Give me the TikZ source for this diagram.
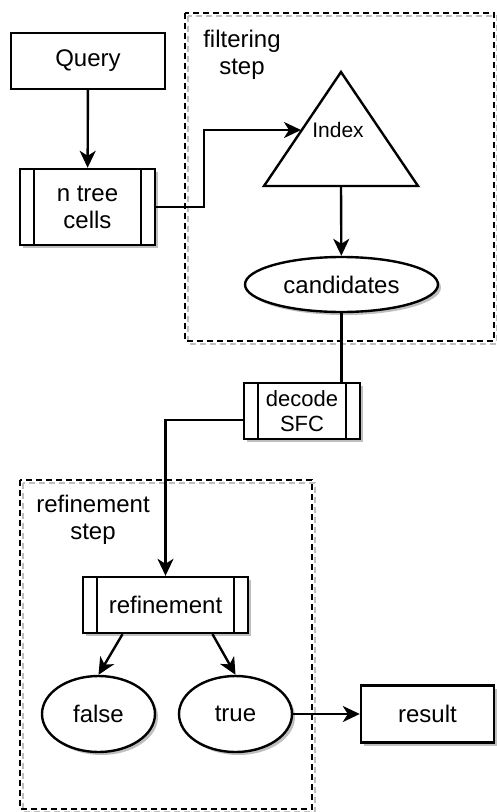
\documentclass[tikz,border=0pt]{standalone}
\usepackage{fontspec}
\setmainfont{Liberation Sans}
\usetikzlibrary{arrows.meta,shadows,shapes.geometric}

\begin{document}
\begin{tikzpicture}[x=1pt,y=-1pt,line width=2.4pt,
  font=\fontsize{24}{27}\selectfont,
  dshadow/.style={drop shadow={shadow xshift=3pt,shadow yshift=-3pt,fill=black!25,opacity=1}},
  box/.style={draw,fill=white,align=center,inner sep=0pt},
  proc/.style={box,dshadow,path picture={
    \draw ([xshift=14pt]path picture bounding box.north west) -- ([xshift=14pt]path picture bounding box.south west);
    \draw ([xshift=-14pt]path picture bounding box.north east) -- ([xshift=-14pt]path picture bounding box.south east);}},
  oval/.style={box,ellipse,dshadow},
  arr/.style={-{Stealth[length=17pt,width=16pt,inset=5pt]}},
  group/.style={dash pattern=on 6pt off 4pt},
  groupshade/.style={group,black!25}]
\useasboundingbox (0,0) rectangle (496,812);

% group frames
\draw[groupshade] (188,16) rectangle (497,344);
\draw[group] (185,13) rectangle (494,341);
\draw[groupshade] (23,483) rectangle (315,812);
\draw[group] (20,480) rectangle (312,809);
\node[align=center] (filt) at (242,55) {filtering\\step};
\node[align=center] (refs) at (93,520) {refinement\\step};

\node[box, minimum width=154pt, minimum height=56pt] (query) at (88,61) {Query};
\node[proc, minimum width=135pt, minimum height=76pt] (cells) at (87.5,207) {n tree\\cells};
\coordinate (itop) at (341,72);
\coordinate (ileft) at (264,186);
\coordinate (iright) at (418,186);
\coordinate (ibase) at (341,186);
\coordinate (iin) at (301,130);
\draw[fill=white] (ileft) -- (itop) -- (iright) -- cycle;
\node[font=\fontsize{21}{25}\selectfont] (index) at (338,130) {Index};
\node[oval, minimum width=193pt, minimum height=55pt] (cand) at (341.5,284.5) {candidates};
\node[proc, minimum width=116pt, minimum height=56pt,
  font=\fontsize{22}{25}\selectfont] (decode) at (302,411) {decode\\SFC};
\node[proc, minimum width=165pt, minimum height=56pt] (refine) at (165.5,605) {refinement};
\node[oval, minimum width=113pt, minimum height=76pt] (false) at (98.5,714) {false};
\node[oval, minimum width=113pt, minimum height=76pt] (true) at (235.5,714) {true};
\node[box, dshadow, minimum width=133pt, minimum height=57pt] (result) at (427.5,714) {result};

\path[draw,arr] (query) -- (cells);
\path[draw,arr] (cells.east) -- ++(48,0) |- (iin);
\path[draw,arr] (ibase) -- (cand);
\path[draw] (cand.south) -- (cand.south |- decode.north);
\path[draw,arr] ([yshift=-9pt]decode.west) -| (refine.north);
\path[draw,arr] ([xshift=-43pt]refine.south) -- (false.north);
\path[draw,arr] ([xshift=47pt]refine.south) -- (true.north);
\path[draw,arr] (true) -- (result);

\end{tikzpicture}
\end{document}
